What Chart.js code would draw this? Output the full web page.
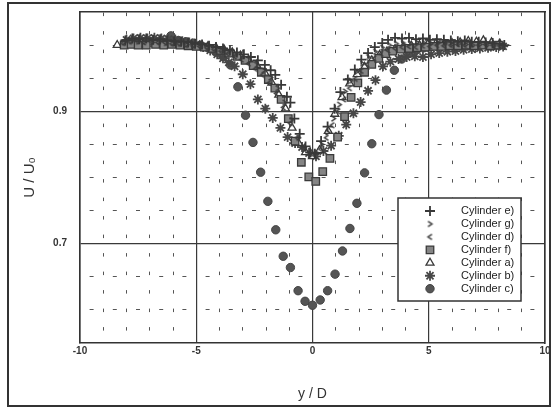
<!DOCTYPE html>
<html>
<head>
<meta charset="utf-8">
<title>Wake profiles</title>
<script src="https://cdn.jsdelivr.net/npm/chart.js@4.4.1/dist/chart.umd.min.js"></script>
<style>
  html, body { margin: 0; padding: 0; background: #fff; }
  #wrap { position: relative; width: 553px; height: 408px; }
  #frame {
    position: absolute; left: 7px; top: 2px; width: 540px; height: 401px;
    border: 2px solid #333; pointer-events: none;
  }
</style>
</head>
<body>
<div id="wrap">
  <canvas id="wakeChart" width="553" height="408"></canvas>
  <div id="frame"></div>
</div>
<script>
//Axis ranges and labelled ticks
const xRange = [-10, 10];
const yRange = [0.55, 1.05];
const xMajorTicks = [-10, -5, 0, 5, 10];
const yMajorTicks = [0.7, 0.9];

//Series values (y/D, U/Uo)
const eX = [-8.05, -7.75, -7.45, -7.15, -6.85, -6.55, -6.25, -5.95, -5.65, -5.35, -5.05, -4.75, -4.45, -4.15, -3.85, -3.55, -3.25, -2.95, -2.65, -2.35, -2.05, -1.8, -1.6, -1.35, -1.1, -0.95, -0.78, -0.55, -0.3, -0.1, 0.1, 0.37, 0.65, 0.95, 1.2, 1.52, 1.82, 2.1, 2.39, 2.68, 3.0, 3.25, 3.55, 3.85, 4.15, 4.45, 4.75, 5.05, 5.35, 5.65, 5.95, 6.25, 6.55, 6.85, 7.15, 7.45, 7.75, 8.05, 8.25];
const eY = [1.007, 1.010, 1.009, 1.010, 1.008, 1.009, 1.007, 1.006, 1.005, 1.004, 1.002, 1.001, 0.999, 0.997, 0.995, 0.992, 0.989, 0.986, 0.982, 0.977, 0.970, 0.962, 0.955, 0.940, 0.922, 0.913, 0.889, 0.866, 0.847, 0.838, 0.836, 0.855, 0.877, 0.904, 0.929, 0.948, 0.963, 0.978, 0.988, 0.997, 1.003, 1.008, 1.011, 1.010, 1.011, 1.009, 1.010, 1.008, 1.009, 1.008, 1.007, 1.006, 1.007, 1.005, 1.005, 1.004, 1.003, 1.002, 1.0];

const gX = [-8.1, -7.8, -7.5, -7.2, -6.9, -6.6, -6.3, -6.0, -5.7, -5.4, -5.1, -4.8, -4.5, -4.2, -3.9, -3.6, -3.3, -3.0, -2.7, -2.4, -2.1, -1.8, -1.5, -1.2, -0.9, -0.6, -0.35, -0.1, 0.15, 0.4, 0.65, 0.9, 1.15, 1.4, 1.65, 1.9, 2.15, 2.4, 2.7, 3.0, 3.3, 3.6, 3.9, 4.2, 4.5, 4.8, 5.1, 5.4, 5.7, 6.0, 6.3, 6.6, 6.9, 7.2, 7.5, 7.8, 8.1];
const gY = [1.004, 1.006, 1.005, 1.006, 1.004, 1.005, 1.003, 1.003, 1.002, 1.001, 1.0, 0.999, 0.997, 0.995, 0.993, 0.990, 0.986, 0.982, 0.977, 0.970, 0.962, 0.951, 0.935, 0.913, 0.887, 0.860, 0.843, 0.834, 0.838, 0.850, 0.868, 0.889, 0.910, 0.930, 0.946, 0.960, 0.972, 0.982, 0.990, 0.996, 1.0, 1.002, 1.003, 1.002, 1.004, 1.003, 1.002, 1.003, 1.002, 1.001, 1.002, 1.001, 1.0, 1.001, 1.0, 0.999, 0.999];

const dX = [-8.15, -7.85, -7.55, -7.25, -6.95, -6.65, -6.35, -6.05, -5.75, -5.45, -5.15, -4.85, -4.55, -4.25, -3.95, -3.65, -3.35, -3.05, -2.75, -2.45, -2.15, -1.85, -1.55, -1.25, -0.95, -0.65, -0.4, -0.15, 0.1, 0.35, 0.6, 0.85, 1.1, 1.35, 1.6, 1.85, 2.1, 2.35, 2.65, 2.95, 3.25, 3.55, 3.85, 4.15, 4.45, 4.75, 5.05, 5.35, 5.65, 5.95, 6.25, 6.55, 6.85, 7.15, 7.45, 7.75, 8.05];
const dY = [1.003, 1.005, 1.006, 1.004, 1.005, 1.004, 1.004, 1.002, 1.002, 1.0, 0.999, 0.998, 0.996, 0.994, 0.991, 0.987, 0.983, 0.978, 0.972, 0.964, 0.955, 0.943, 0.927, 0.906, 0.882, 0.860, 0.844, 0.835, 0.833, 0.843, 0.860, 0.879, 0.900, 0.918, 0.935, 0.949, 0.961, 0.971, 0.980, 0.987, 0.992, 0.995, 0.997, 0.998, 0.997, 0.999, 0.998, 1.0, 0.999, 1.0, 1.001, 1.0, 1.001, 1.0, 1.001, 1.0, 0.999];

const fX = [-8.1, -7.8, -7.5, -7.15, -6.75, -6.4, -6.05, -5.7, -5.35, -5.0, -4.65, -4.3, -3.95, -3.6, -3.25, -2.9, -2.55, -2.2, -1.9, -1.62, -1.35, -1.04, -0.75, -0.48, -0.16, 0.14, 0.44, 0.75, 1.08, 1.38, 1.66, 1.95, 2.24, 2.55, 2.85, 3.15, 3.45, 3.8, 4.15, 4.5, 4.85, 5.2, 5.55, 5.9, 6.25, 6.6, 6.95, 7.3, 7.65, 8.0];
const fY = [1.0, 1.001, 1.0, 1.0, 1.001, 1.0, 1.001, 1.0, 0.999, 0.998, 0.997, 0.995, 0.992, 0.988, 0.983, 0.977, 0.969, 0.959, 0.948, 0.935, 0.918, 0.889, 0.855, 0.823, 0.801, 0.794, 0.809, 0.829, 0.861, 0.892, 0.921, 0.943, 0.959, 0.971, 0.980, 0.987, 0.991, 0.994, 0.995, 0.996, 0.997, 0.998, 0.998, 0.999, 0.999, 1.0, 0.999, 1.0, 0.999, 1.0];

const aX = [-8.4, -8.0, -7.65, -7.3, -6.95, -6.6, -6.25, -5.9, -5.55, -5.2, -4.85, -4.5, -4.15, -3.8, -3.45, -3.1, -2.75, -2.4, -2.05, -1.75, -1.45, -1.16, -0.88, -0.6, -0.3, 0.0, 0.3, 0.68, 0.96, 1.27, 1.6, 1.92, 2.24, 2.55, 2.88, 3.2, 3.55, 3.9, 4.25, 4.6, 4.95, 5.3, 5.65, 6.0, 6.35, 6.7, 7.05, 7.35, 7.7, 8.05];
const aY = [1.0, 1.001, 1.002, 1.001, 1.002, 1.001, 1.002, 1.001, 1.001, 1.0, 0.999, 0.998, 0.996, 0.993, 0.989, 0.984, 0.978, 0.970, 0.958, 0.943, 0.925, 0.904, 0.875, 0.852, 0.838, 0.832, 0.841, 0.870, 0.896, 0.921, 0.942, 0.956, 0.967, 0.977, 0.985, 0.990, 0.994, 0.997, 0.999, 1.0, 1.001, 1.002, 1.002, 1.003, 1.004, 1.006, 1.005, 1.007, 1.004, 1.002];

const bX = [-8.0, -7.7, -7.4, -7.1, -6.8, -6.5, -6.2, -5.9, -5.6, -5.3, -5.0, -4.7, -4.4, -4.1, -3.85, -3.6, -3.35, -3.0, -2.67, -2.35, -2.03, -1.71, -1.38, -1.07, -0.75, -0.45, -0.15, 0.15, 0.47, 0.8, 1.13, 1.45, 1.76, 2.07, 2.39, 2.71, 3.03, 3.35, 3.7, 4.05, 4.4, 4.75, 5.1, 5.45, 5.8, 6.15, 6.5, 6.85, 7.2, 7.55, 7.9, 8.2];
const bY = [1.008, 1.010, 1.011, 1.010, 1.011, 1.010, 1.009, 1.008, 1.006, 1.004, 1.001, 0.997, 0.992, 0.986, 0.980, 0.974, 0.968, 0.956, 0.941, 0.918, 0.904, 0.890, 0.875, 0.861, 0.852, 0.846, 0.837, 0.832, 0.840, 0.848, 0.863, 0.880, 0.897, 0.914, 0.931, 0.947, 0.968, 0.975, 0.979, 0.982, 0.983, 0.982, 0.986, 0.988, 0.990, 0.991, 0.993, 0.994, 0.995, 0.996, 0.997, 0.998];

const cX = [-6.09, -5.77, -5.45, -5.13, -4.81, -4.49, -4.17, -3.85, -3.53, -3.21, -2.88, -2.56, -2.23, -1.92, -1.58, -1.26, -0.95, -0.62, -0.32, 0.0, 0.33, 0.65, 0.97, 1.29, 1.61, 1.91, 2.24, 2.55, 2.86, 3.18, 3.52, 3.84, 4.16, 4.48, 4.8, 5.12, 5.44, 5.76, 6.08];
const cY = [1.014, 1.007, 1.005, 1.003, 1.0, 0.996, 0.990, 0.983, 0.970, 0.937, 0.894, 0.853, 0.808, 0.764, 0.721, 0.681, 0.664, 0.629, 0.613, 0.607, 0.615, 0.629, 0.654, 0.689, 0.723, 0.761, 0.807, 0.851, 0.895, 0.932, 0.962, 0.979, 0.988, 0.993, 0.996, 0.998, 1.0, 1.001, 1.002];

const FONT = "'Liberation Sans', Arial, Helvetica, sans-serif";
const INK = '#333';

//Small chevron markers for the '>' and '<' series
function makeChevron(pointsRight) {
  const c = document.createElement('canvas');
  c.width = 9;
  c.height = 9;
  const g = c.getContext('2d');
  g.strokeStyle = '#3d3d3d';
  g.lineWidth = 1.5;
  g.beginPath();
  if (pointsRight) {
    g.moveTo(2.5, 1.8); g.lineTo(6.5, 4.5); g.lineTo(2.5, 7.2);
  } else {
    g.moveTo(6.5, 1.8); g.lineTo(2.5, 4.5); g.lineTo(6.5, 7.2);
  }
  g.stroke();
  return c;
}

function toPoints(xs, ys) {
  return xs.map((x, i) => ({ x: x, y: ys[i] }));
}

function series(label, xs, ys, style) {
  return Object.assign({
    label: label,
    data: toPoints(xs, ys),
    pointHoverRadius: style.pointRadius,
  }, style);
}

const datasets = [
  series('Cylinder e)', eX, eY, { pointStyle: 'cross', pointRadius: 5, borderColor: '#383838', backgroundColor: '#383838', borderWidth: 1.8 }),
  series('Cylinder g)', gX, gY, { pointStyle: makeChevron(true), pointRadius: 4, borderColor: '#3d3d3d', backgroundColor: '#3d3d3d', borderWidth: 1 }),
  series('Cylinder d)', dX, dY, { pointStyle: makeChevron(false), pointRadius: 4, borderColor: '#3d3d3d', backgroundColor: '#3d3d3d', borderWidth: 1 }),
  series('Cylinder f)', fX, fY, { pointStyle: 'rect', pointRadius: 5.3, borderColor: '#3a3a3a', backgroundColor: '#858585', borderWidth: 1.3 }),
  series('Cylinder a)', aX, aY, { pointStyle: 'triangle', pointRadius: 4.6, borderColor: '#383838', backgroundColor: '#ffffff', borderWidth: 1.3 }),
  series('Cylinder b)', bX, bY, { pointStyle: 'star', pointRadius: 5, borderColor: '#474747', backgroundColor: '#474747', borderWidth: 1.8 }),
  series('Cylinder c)', cX, cY, { pointStyle: 'circle', pointRadius: 4.2, borderColor: '#444', backgroundColor: '#555', borderWidth: 1 }),
];

//Boxed legend inside the plot, bottom right
const boxLegend = {
  id: 'boxLegend',
  afterDraw(chart, args, opts) {
    const ctx = chart.ctx;
    ctx.save();
    ctx.fillStyle = '#fff';
    ctx.fillRect(opts.left, opts.top, opts.width, opts.height);
    ctx.strokeStyle = INK;
    ctx.lineWidth = 1.5;
    ctx.strokeRect(opts.left, opts.top, opts.width, opts.height);

    chart.data.datasets.forEach((ds, i) => {
      const y = opts.firstRow + i * opts.rowGap;
      ctx.save();
      ctx.fillStyle = ds.backgroundColor;
      ctx.strokeStyle = ds.borderColor;
      ctx.lineWidth = ds.borderWidth;
      if (Chart.helpers && Chart.helpers.drawPoint) {
        Chart.helpers.drawPoint(ctx, {
          pointStyle: ds.pointStyle,
          radius: ds.pointRadius,
          borderWidth: ds.borderWidth,
          rotation: 0,
        }, opts.symbolX, y);
      }
      ctx.restore();

      ctx.fillStyle = '#222';
      ctx.font = '11px ' + FONT;
      ctx.textBaseline = 'middle';
      ctx.textAlign = 'left';
      ctx.fillText(ds.label, opts.textX, y);
    });
    ctx.restore();
  },
};

const isOn = (v, list) => list.some((m) => Math.abs(v - m) < 1e-6);

function createChart() {
  const canvasElement = document.getElementById('wakeChart');
  const chartContext = canvasElement.getContext('2d');

  return new Chart(chartContext, {
    type: 'scatter',
    data: { datasets: datasets },
    options: {
      responsive: false,
      animation: false,
      events: [],
      layout: { padding: { left: 0, top: 12, right: 8, bottom: 0 } },
      plugins: {
        legend: { display: false },
        tooltip: { enabled: false },
        boxLegend: {
          left: 398, top: 198, width: 123, height: 103,
          firstRow: 211, rowGap: 12.95, symbolX: 430, textX: 461,
        },
      },
      scales: {
        x: {
          type: 'linear',
          position: 'bottom',
          min: xRange[0],
          max: xRange[1],
          afterBuildTicks: (scale) => { scale.ticks = xMajorTicks.map((v) => ({ value: v })); },
          ticks: { color: '#333', padding: 2, font: { family: FONT, size: 10, weight: 'bold' } },
          grid: { color: '#3a3a3a', lineWidth: 1.2, drawTicks: false },
          border: { display: true, color: INK, width: 1.6 },
          title: {
            display: true, text: 'y / D', color: '#333',
            font: { family: FONT, size: 14 }, padding: { top: 0, bottom: 5 },
          },
          afterFit: (scale) => { scale.height = 65; },
        },
        y: {
          type: 'linear',
          position: 'left',
          min: yRange[0],
          max: yRange[1],
          afterBuildTicks: (scale) => { scale.ticks = yMajorTicks.map((v) => ({ value: v })); },
          ticks: {
            color: '#333', padding: 13, font: { family: FONT, size: 10, weight: 'bold' },
            callback: (v) => v.toFixed(1),
          },
          grid: { color: '#3a3a3a', lineWidth: 1.2, drawTicks: false },
          border: { display: true, color: INK, width: 1.6 },
          title: {
            display: true, text: 'U / U₀', color: '#333',
            font: { family: FONT, size: 15 }, padding: { top: 21, bottom: 0 },
          },
          //labels sit well inside the range, so no extra room is needed above/below
          afterFit: (scale) => { scale.width = 80; scale.paddingTop = 0; scale.paddingBottom = 0; },
        },
        //Dotted minor grid, one line per unit of y/D
        xMinor: {
          axis: 'x',
          type: 'linear',
          position: 'top',
          min: xRange[0],
          max: xRange[1],
          ticks: { stepSize: 1, display: false },
          grid: {
            drawTicks: false,
            lineWidth: 1,
            color: (c) => (c.tick && isOn(c.tick.value, xMajorTicks) ? 'rgba(0,0,0,0)' : '#555'),
          },
          border: { display: true, color: INK, width: 1.6, dash: [3.5, 15], dashOffset: 0 },
          afterFit: (scale) => { scale.height = 0; },
        },
        //Dashed minor grid, every 0.05 of U/Uo
        yMinor: {
          axis: 'y',
          type: 'linear',
          position: 'right',
          min: yRange[0],
          max: yRange[1],
          ticks: { stepSize: 0.05, display: false },
          grid: {
            drawTicks: false,
            lineWidth: 1,
            color: (c) => (c.tick && (isOn(c.tick.value, yMajorTicks) || isOn(c.tick.value, yRange)) ? 'rgba(0,0,0,0)' : '#555'),
          },
          border: { display: true, color: INK, width: 1.6, dash: [4, 19.2], dashOffset: 13.6 },
          afterFit: (scale) => { scale.width = 0; scale.paddingTop = 0; scale.paddingBottom = 0; },
        },
      },
    },
    plugins: [boxLegend],
  });
}

document.addEventListener('DOMContentLoaded', createChart);
</script>
</body>
</html>
